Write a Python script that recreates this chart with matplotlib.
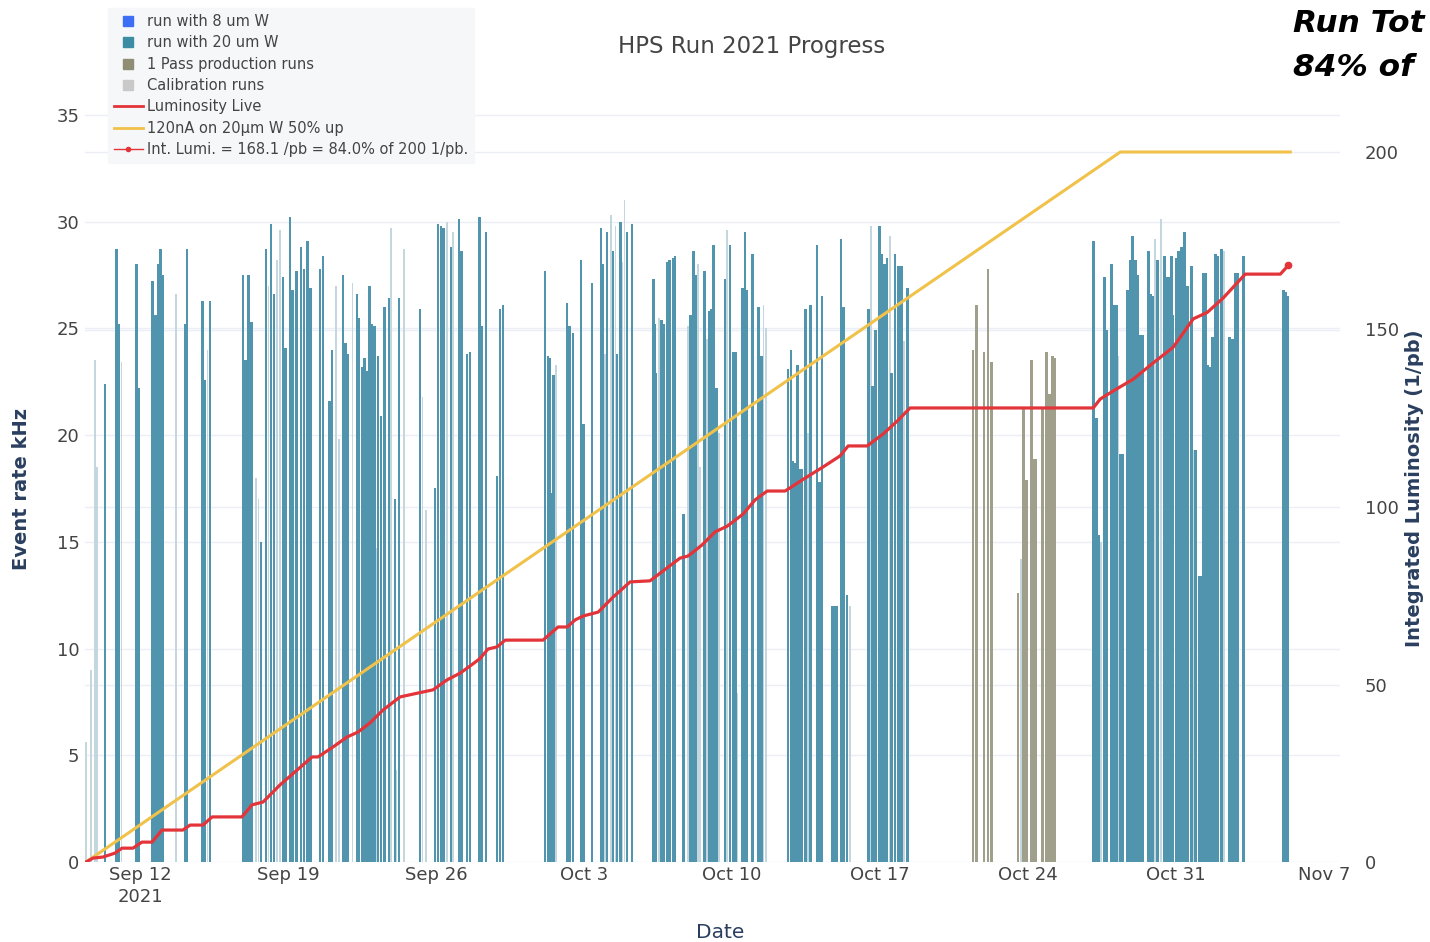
import numpy as np
import pandas as pd
import matplotlib
matplotlib.use("Agg")
import matplotlib.pyplot as plt
import matplotlib.dates as mdates
from matplotlib.lines import Line2D

plt.rcParams['font.family'] = ['DejaVu Sans']

# ---------------- data (days after 2021-09-12 00:00) ----------------
RUN_START = pd.Timestamp('2021-09-12')

# runs with 20 um W target : (day offset, event rate kHz)
w20_days = [-1.66, -1.10, -1.02, -0.16, -0.07, 0.60, 0.73, 0.85, 0.97, 1.09, 2.13, 2.22, 2.97, 3.07, 3.31,
            4.87, 4.99, 5.13, 5.27, 5.72, 5.96, 6.20, 6.34, 6.76, 6.88, 7.10, 7.21, 7.40, 7.62, 7.76, 7.92, 8.07,
            8.51, 8.66, 8.96, 9.08, 9.60, 9.72, 9.82, 10.26, 10.34, 10.50, 10.62, 10.74, 10.86, 10.97, 11.09,
            11.26, 11.40, 11.57, 11.78, 12.06, 12.25, 13.25, 13.95, 14.10, 14.24, 14.36, 14.71, 15.09, 15.21,
            15.47, 15.61, 16.06, 16.18, 16.37,
            16.89, 17.03, 17.17,
            19.16, 19.30, 19.39, 19.49, 19.56, 20.20, 20.32, 20.48, 20.86, 20.96, 21.38, 21.81, 21.90, 22.09,
            22.37, 22.56, 22.71, 23.04, 23.27,
            24.27, 24.34, 24.41, 24.65, 24.76, 24.93, 25.05, 25.21, 25.31, 25.69, 26.04, 26.18, 26.30, 26.70,
            26.92, 27.01, 27.11, 27.25, 27.67, 27.91, 28.05, 28.15, 28.48, 28.62, 28.71, 28.97, 29.26, 29.38,
            30.65, 30.79, 30.89, 30.98, 31.10, 31.20, 31.29, 31.46, 31.72, 32.02, 32.14, 32.26, 32.73, 32.85,
            32.97, 33.16, 33.28, 33.44,
            34.44, 34.63, 34.77, 34.96, 35.08, 35.20, 35.32, 35.55, 35.71, 35.86, 36.00, 36.31,
            45.08, 45.22, 45.36, 45.60, 45.70, 45.93, 46.07, 46.17, 46.36, 46.45, 46.69, 46.83, 46.93, 47.07,
            47.16, 47.30, 47.40, 47.68, 47.78, 47.90, 48.11, 48.44, 48.53, 48.65, 48.77, 48.86, 49.00, 49.10,
            49.24, 49.39, 49.53, 49.72, 49.91, 50.09, 50.19, 50.28, 50.40, 50.47, 50.59, 50.71, 50.85, 50.97,
            51.14, 51.51, 51.66, 51.80, 51.91, 52.18,
            54.07, 54.16, 54.28]
w20_rate = [22.4, 28.7, 25.2, 28.0, 22.2, 27.2, 25.6, 28.0, 28.7, 27.5, 25.2, 28.7, 26.3, 22.6, 26.3,
            27.5, 23.5, 27.5, 25.3, 15.0, 28.7, 29.9, 26.6, 27.4, 24.1, 30.2, 26.8, 27.7, 28.8, 27.8, 29.1, 26.9,
            27.8, 28.4, 21.6, 24.0, 27.5, 24.3, 23.8, 26.6, 25.5, 23.2, 23.6, 23.0, 27.0, 25.2, 25.1,
            23.7, 20.9, 26.0, 26.4, 17.0, 26.4, 25.9, 17.5, 29.9, 29.8, 29.7, 28.8, 30.1, 28.6,
            23.8, 23.9, 30.2, 25.1, 29.5,
            18.1, 25.9, 26.1,
            27.7, 23.7, 23.6, 17.3, 22.8, 26.2, 25.1, 24.8, 28.2, 20.5, 27.1, 29.7, 28.0, 29.5,
            28.6, 23.8, 30.0, 29.5, 29.9,
            27.3, 25.2, 22.9, 25.4, 25.2, 28.1, 28.2, 28.3, 28.4, 16.3, 25.6, 28.6, 27.5, 27.7,
            25.8, 25.9, 28.9, 22.2, 27.3, 28.9, 23.9, 23.9, 26.9, 29.5, 26.8, 28.5, 26.0, 23.7,
            23.1, 24.0, 18.8, 18.7, 23.3, 18.4, 18.4, 25.9, 26.1, 28.9, 17.8, 26.5, 12.0, 12.0,
            12.0, 29.2, 26.0, 12.5,
            25.9, 22.3, 24.9, 29.8, 28.5, 28.0, 28.3, 22.9, 28.5, 27.9, 27.9, 26.9,
            29.1, 20.8, 15.3, 27.4, 24.9, 28.0, 26.1, 26.1, 19.1, 19.1, 26.8, 28.2, 29.3, 28.2,
            27.5, 24.7, 24.7, 28.6, 26.6, 26.5, 28.2, 28.4, 27.4, 27.4, 28.4, 25.6, 28.3, 28.6,
            28.8, 29.5, 27.0, 27.9, 19.3, 13.4, 13.4, 27.6, 27.6, 23.3, 23.2, 24.6, 28.5, 28.4,
            28.7, 24.6, 24.5, 27.6, 27.6, 28.4,
            26.8, 26.7, 26.5]

# calibration / short runs (pale bars)
calib_days = [-2.55, -2.33, -2.13, -2.03, -0.87, 1.70, 3.19,
              5.49, 5.61, 6.08, 6.48, 6.62, 9.27, 9.41, 10.05, 11.21, 11.87, 12.10, 12.49, 13.36, 13.53,
              14.52, 14.81,
              19.68, 22.00, 22.28, 22.49, 22.82, 22.92,
              24.53, 25.92, 26.39, 26.49, 26.80, 27.39, 27.77, 28.24, 29.49, 29.59,
              31.60, 33.58, 34.56, 35.48, 36.14, 41.67,
              45.46, 46.26, 48.01, 48.30, 49.81, 51.25]
calib_rate = [5.6, 9.0, 23.5, 18.5, 23.4, 26.6, 24.0,
              18.0, 17.0, 27.0, 28.2, 29.6, 27.0, 19.8, 27.1, 14.7, 29.7, 4.3, 28.7, 21.8, 16.5,
              30.0, 29.5,
              23.3, 23.8, 30.3, 29.8, 28.1, 31.0,
              25.5, 25.1, 28.0, 18.5, 24.5, 20.1, 29.6, 7.9, 26.1, 25.0,
              20.1, 12.0, 29.8, 29.3, 24.4, 14.2,
              15.0, 23.7, 29.2, 30.1, 19.3, 28.6]

# 1 pass production runs
pass1_days = [39.40, 39.55, 39.92, 40.11, 40.26, 41.53, 41.77, 41.91, 42.15, 42.29, 42.38, 42.67,
              42.86, 43.00, 43.14, 43.28]
pass1_rate = [24.0, 26.1, 23.9, 27.8, 23.4, 12.6, 21.3, 17.9, 23.5, 18.9, 18.9, 21.3,
              23.9, 21.9, 23.7, 23.6]

# integrated luminosity (live), 1/pb
lumi_days = [-2.55, -2.22, -1.75, -1.18, -0.85, -0.33, 0.09, 0.57, 1.04, 2.03, 2.37, 2.98, 3.41, 4.82,
             5.30, 5.82, 6.62, 7.43, 8.14, 8.42, 9.13, 9.79, 10.31, 10.88, 11.49, 12.30, 13.15, 13.86,
             14.52, 15.14, 15.47, 16.08, 16.46, 16.89, 17.27, 19.06, 19.77, 20.20, 20.58, 20.96, 21.67,
             22.37, 23.18, 24.12, 24.74, 25.54, 25.92, 26.58, 27.20, 27.77, 28.52, 29.09, 29.66, 30.51,
             31.31, 32.31, 33.11, 33.49, 34.39, 35.15, 35.81, 36.42, 45.08, 45.41, 46.03, 46.97, 47.92,
             48.86, 49.81, 50.47, 51.23, 52.27, 53.93, 54.31]
lumi_val = [0.0, 1.1, 1.4, 2.5, 3.9, 3.9, 5.6, 5.6, 9.0, 9.0, 10.4, 10.4, 12.7, 12.7,
            16.1, 16.9, 21.7, 25.9, 29.6, 29.6, 32.4, 35.2, 36.6, 39.2, 42.8, 46.5, 47.6, 48.5,
            51.3, 53.2, 54.6, 57.3, 60.0, 60.6, 62.5, 62.5, 66.2, 66.2, 68.2, 69.3, 70.4,
            74.6, 78.9, 79.2, 82.0, 85.6, 86.2, 89.3, 93.0, 94.6, 98.0, 102.0, 104.5, 104.5,
            107.6, 111.3, 114.4, 117.2, 117.2, 120.6, 124.2, 127.9, 127.9, 130.4, 132.7, 136.0, 140.6,
            145.0, 153.0, 154.8, 158.9, 165.6, 165.6, 168.1]

# goal line: 120nA on 20um W, 50% up
goal_days = [-2.55, 46.36, 54.40]
goal_val = [0.0, 200.0, 200.0]

final_lumi = 168.1
goal_total = 200

tick_days = [0, 7, 14, 21, 28, 35, 42, 49, 56]
tick_labels = ['Sep 12\n2021', 'Sep 19', 'Sep 26', 'Oct 3', 'Oct 10', 'Oct 17', 'Oct 24', 'Oct 31', 'Nov 7']


def to_num(days):
    return mdates.date2num(RUN_START + pd.to_timedelta(np.asarray(days, dtype=float), unit='D'))


# ---------------- styling ----------------
C_TEAL = '#5094ae'
C_PALE = '#c4d6de'
C_PASS = '#a09f8b'
C_CAL = '#c9c9c9'
C_8UM = '#3d6ff5'
C_RED = '#e3343a'
C_YEL = '#f1c24a'
C_GRID = '#ebeff5'
C_TICK = '#444444'
C_AXT = '#2a3f5f'

W, H = 1430, 942
fig = plt.figure(figsize=(W / 100, H / 100), dpi=100)
rect = [85 / W, (H - 862) / H, 1255 / W, 760 / H]

ax_g = fig.add_axes(rect)          # right-axis grid (bottom layer)
ax = fig.add_axes(rect)            # bars
ax2 = fig.add_axes(rect)           # lines + right ticks
ax_g.set_zorder(1)
ax.set_zorder(2)
ax2.set_zorder(3)
ax.patch.set_visible(False)
ax2.patch.set_visible(False)

xlim = to_num([-2.6, 56.75])
y_left_max = 35.6
y_right_max = 760 / 3.55

for a in (ax_g, ax, ax2):
    a.set_xlim(*xlim)
    for s in a.spines.values():
        s.set_visible(False)

ax_g.set_ylim(0, y_right_max)
ax_g.set_yticks([50, 100, 150, 200])
ax_g.yaxis.grid(True, color=C_GRID, lw=1.0)
ax_g.tick_params(left=False, labelleft=False, bottom=False, labelbottom=False)

# bars
ax.set_ylim(0, y_left_max)
ax.bar(to_num(calib_days), calib_rate, width=0.08, color=C_PALE, linewidth=0, zorder=2)
ax.bar(to_num(pass1_days), pass1_rate, width=0.125, color=C_PASS, linewidth=0, zorder=3)
ax.bar(to_num(w20_days), w20_rate, width=0.125, color=C_TEAL, linewidth=0, zorder=3)
ax.set_yticks(range(0, 36, 5))
ax.yaxis.grid(True, color=C_GRID, lw=1.0, zorder=0)
ax.set_axisbelow(True)
ax.tick_params(axis='y', length=0, pad=4, labelsize=13, labelcolor=C_TICK)
ax.set_xticks(to_num(tick_days))
ax.set_xticklabels(tick_labels, linespacing=1.3)
ax.tick_params(axis='x', length=0, pad=3, labelsize=13, labelcolor=C_TICK)

# lines on right axis
ax2.set_ylim(0, y_right_max)
ax2.plot(to_num(goal_days), goal_val, color=C_YEL, lw=2.2, zorder=4)
ax2.plot(to_num(lumi_days), lumi_val, color=C_RED, lw=2.3, zorder=5)
ax2.plot(to_num([lumi_days[-1]]), [final_lumi], 'o', color=C_RED, ms=4.5, zorder=6)
ax2.yaxis.tick_right()
ax2.set_yticks([0, 50, 100, 150, 200])
ax2.tick_params(axis='y', length=0, pad=18, labelsize=13, labelcolor=C_TICK)
ax2.tick_params(bottom=False, labelbottom=False)

# texts
fig.text(752 / W, 1 - 47 / H, 'HPS Run 2021 Progress', ha='center', va='center',
         fontsize=16.5, color=C_TICK)
fig.text(22 / W, 1 - 489 / H, 'Event rate kHz', rotation=90, ha='center', va='center',
         fontsize=14, fontweight='bold', color=C_AXT)
fig.text(1414 / W, 1 - 488 / H, 'Integrated Luminosity (1/pb)', rotation=90, ha='center', va='center',
         fontsize=14, fontweight='bold', color=C_AXT)
fig.text(720 / W, 1 - 932 / H, 'Date', ha='center', va='center', fontsize=14.5, color=C_AXT)
fig.text(1293 / W, 1 - 23 / H, 'Run Tot', ha='left', va='center', fontsize=22.5,
         fontweight='bold', fontstyle='italic', color='black')
fig.text(1293 / W, 1 - 68 / H, '84% of', ha='left', va='center', fontsize=22.5,
         fontweight='bold', fontstyle='italic', color='black')

# legend
pct = 100 * final_lumi / goal_total
handles = [
    Line2D([], [], ls='none', marker='s', ms=7, color=C_8UM),
    Line2D([], [], ls='none', marker='s', ms=7, color='#3c8ca3'),
    Line2D([], [], ls='none', marker='s', ms=7, color='#8f8d74'),
    Line2D([], [], ls='none', marker='s', ms=7, color=C_CAL),
    Line2D([], [], color=C_RED, lw=2),
    Line2D([], [], color=C_YEL, lw=2),
    Line2D([], [], color=C_RED, lw=1, marker='o', ms=3),
]
labels = ['run with 8 um W', 'run with 20 um W', '1 Pass production runs', 'Calibration runs',
          'Luminosity Live', '120nA on 20\u00b5m W 50% up',
          f'Int. Lumi. = {final_lumi:.1f} /pb = {pct:.1f}% of {goal_total} 1/pb.']
leg = fig.legend(handles, labels, loc='upper left', bbox_to_anchor=(108 / W, 1 - 8 / H),
                 frameon=True, fancybox=False, framealpha=1, facecolor='#f6f7f9', edgecolor='#f6f7f9',
                 fontsize=10.5, labelcolor=C_TICK, handlelength=2.0, handletextpad=0.3,
                 labelspacing=0.44, borderpad=0.4, borderaxespad=0)

fig.savefig('out.png', dpi=100)
